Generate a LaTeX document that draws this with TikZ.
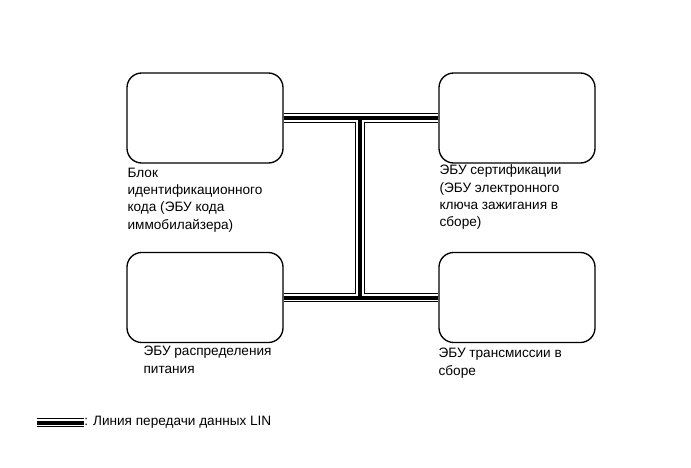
\documentclass[tikz,border=0pt]{standalone}
\usepackage{fontspec}
\setmainfont{Liberation Sans}
\usetikzlibrary{positioning,calc,backgrounds}

\begin{document}
\begin{tikzpicture}[
  x=0.75pt, y=-0.75pt,
  ecu/.style={draw, line width=1pt, rounded corners=11pt, fill=white,
              minimum width=117pt, minimum height=67.5pt, inner sep=0pt},
  lbl/.style={anchor=north west, align=left, inner sep=0pt,
              font=\fontsize{10.2}{13}\selectfont},
  linout/.style={line width=6.9pt, black},
  lingap/.style={line width=5.3pt, white},
  lincore/.style={line width=3pt, black},
]
\useasboundingbox (0,0) rectangle (691,467);
% control units
\node[ecu] (imm) at (205,118) {};
\node[ecu] (cert) at (517,118) {};
\node[ecu] (pwr) at (205,297.5) {};
\node[ecu] (trans) at (517,297.5) {};
\node[lbl] (immlbl) at ($(imm.south west)+(1,4)$)
  {Блок\\идентификационного\\кода (ЭБУ кода\\иммобилайзера)};
\node[lbl] (certlbl) at ($(cert.south west)+(1,1)$)
  {ЭБУ сертификации\\(ЭБУ электронного\\ключа зажигания в\\сборе)};
\node[lbl] (pwrlbl) at ($(pwr.south west)+(17,3)$)
  {ЭБУ распределения\\питания};
\node[lbl] (translbl) at ($(trans.south west)+(0,5)$)
  {ЭБУ трансмиссии в\\сборе};
% LIN bus
\coordinate (jtop) at (360,118);
\coordinate (jbot) at (360,298);
\begin{scope}[on background layer]
  \foreach \layer in {linout,lingap,lincore}
    \draw[\layer] (imm.east) -- (cert.west)
                  (pwr.east) -- (trans.west)
                  (jtop) -- (jbot);
\end{scope}
% legend
\coordinate (leg1) at (37,422.5);
\coordinate (leg2) at (84,422.5);
\foreach \layer in {linout,lingap,lincore}
  \draw[\layer] (leg1) -- (leg2);
\node[lbl, anchor=west] (legtxt) at (leg2)
  {: Линия передачи данных LIN};
\end{tikzpicture}
\end{document}
